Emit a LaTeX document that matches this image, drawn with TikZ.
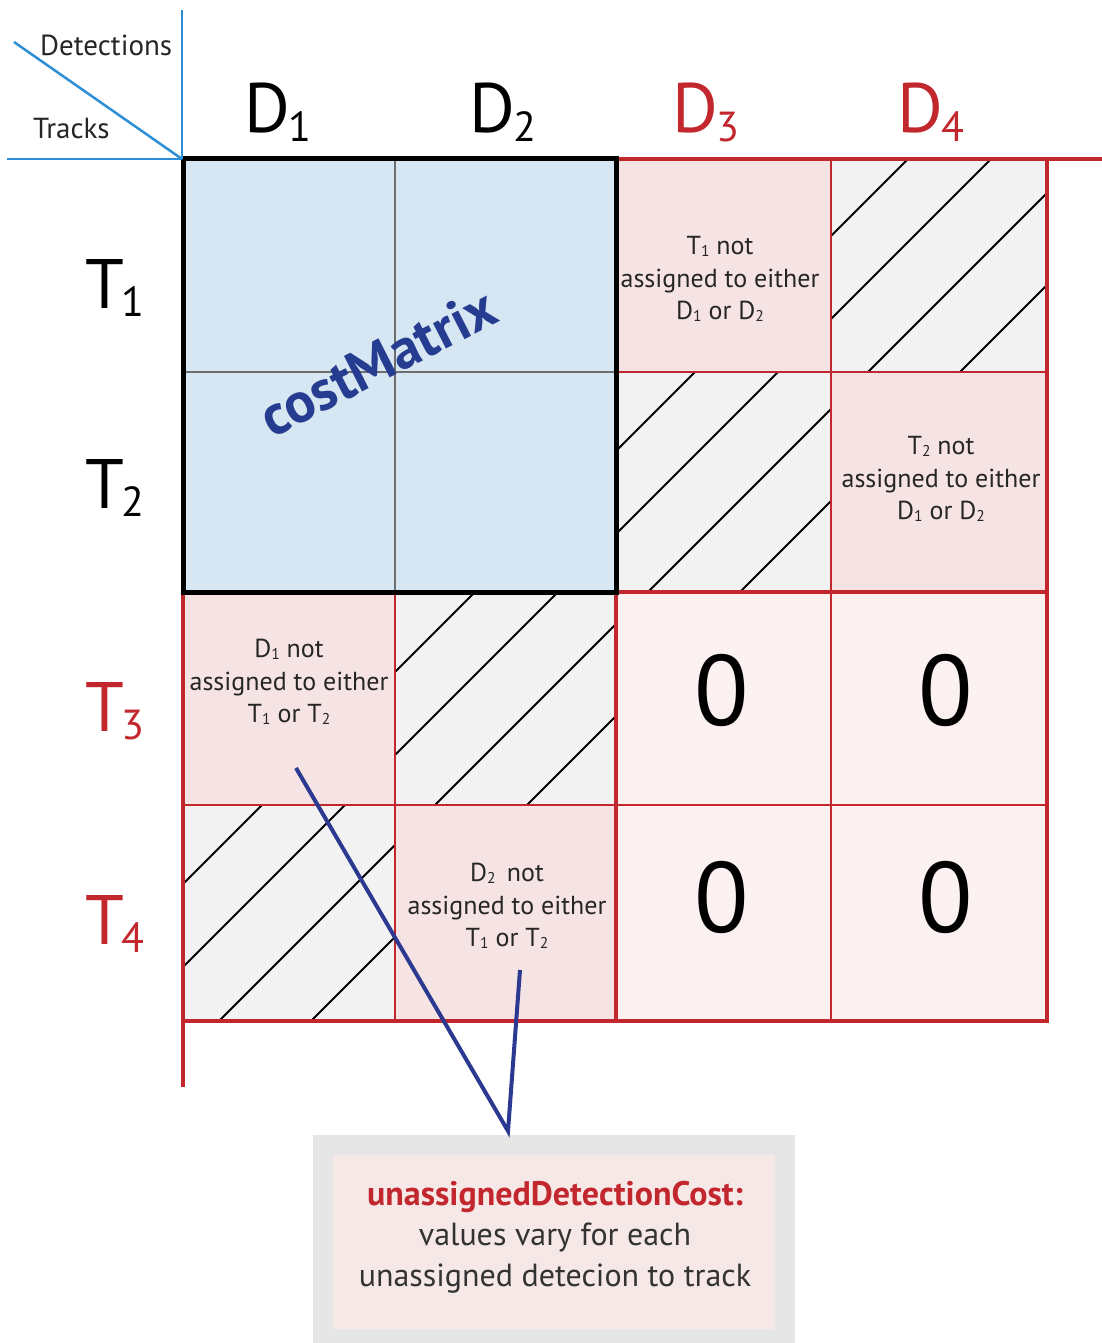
\documentclass[tikz,border=0pt]{standalone}
\usepackage{fontspec}
\setmainfont{PT Sans}
\usepackage{graphicx}
\definecolor{cmblue}{HTML}{D6E6F3}
\definecolor{cellpink}{HTML}{F6E3E3}
\definecolor{zeropink}{HTML}{FBF1F1}
\definecolor{hatchgray}{HTML}{F2F2F2}
\definecolor{redline}{HTML}{C1272D}
\definecolor{axisblue}{HTML}{2D8FD5}
\definecolor{connblue}{HTML}{2B3990}
\definecolor{cmtext}{HTML}{263C91}
\definecolor{notegray}{HTML}{E6E6E6}
\definecolor{notepink}{HTML}{F7E8E8}
\definecolor{textgray}{HTML}{333333}
\definecolor{gridgray}{HTML}{6E6E6E}
\newcommand\lowdig[1]{\raisebox{-0.06em}{\scalebox{0.6}{#1}}}
\newcommand\hdsub[1]{\kern-0.03em\raisebox{-0.12em}{\scalebox{0.6}{#1}}}
\tikzset{
  thinred/.style={draw=redline, line width=2pt},
  thickred/.style={draw=redline, line width=4.5pt},
  hatchline/.style={draw=black, line width=1.8pt},
  axisline/.style={draw=axisblue, line width=2.5pt},
  conn/.style={draw=connblue, line width=4pt, line join=miter},
  hdr/.style={font=\fontsize{70}{72}\selectfont, inner sep=0pt},
  celltext/.style={font=\fontsize{26}{32.5}\selectfont, align=center, inner sep=0pt, text=black!85},
  zero/.style={font=\fontsize{100}{100}\selectfont, inner sep=0pt},
  axislabel/.style={font=\fontsize{29}{30}\selectfont, inner sep=0pt, text=black!85}
}
\begin{document}
\begin{tikzpicture}[x=1pt,y=-1pt]
\useasboundingbox (0,0) rectangle (1102,1343);
\fill[white] (0,0) rectangle (1102,1343);
% fills
\fill[cmblue] (183,159) rectangle (616,592);
\fill[cellpink] (616,159) rectangle (831,372);
\fill[cellpink] (831,372) rectangle (1047,592);
\fill[cellpink] (183,592) rectangle (395,805);
\fill[cellpink] (395,805) rectangle (616,1021);
\fill[zeropink] (616,592) rectangle (1047,1021);
% hatched cells
\foreach \xa/\ya/\xb/\yb in {831/159/1047/372, 616/372/831/592, 395/592/616/805, 183/805/395/1021} {
  \begin{scope}
    \clip (\xa,\ya) rectangle (\xb,\yb);
    \fill[hatchgray] (\xa,\ya) rectangle (\xb,\yb);
    \foreach \c in {1067,1150,1240,1332} {
      \draw[hatchline] (0,\c) -- (\c,0);
    }
  \end{scope}
}
% cost matrix inner grid
\draw[draw=gridgray, line width=2pt] (395,159) -- (395,592);
\draw[draw=gridgray, line width=2pt] (183,372) -- (616,372);
% thin red lines
\draw[thinred] (831,159) -- (831,1021);
\draw[thinred] (616,372) -- (1047,372);
\draw[thinred] (395,592) -- (395,1021);
\draw[thinred] (183,805) -- (1047,805);
% thick red lines
\draw[thickred] (616,159) -- (1102,159);
\draw[thickred] (1047,159) -- (1047,1021);
\draw[thickred] (181,1021) -- (1049,1021);
\draw[thickred] (183,592) -- (183,1087);
\draw[thickred] (183,592) -- (1047,592);
\draw[thickred] (616,592) -- (616,1021);
% black border
\draw[line width=5pt, line join=miter] (183,159) rectangle (616,592);
% axes
\draw[axisline] (182,10) -- (182,159);
\draw[axisline] (7,159) -- (182,159);
\draw[axisline] (14,42) -- (182,159);
\node[axislabel, anchor=base west] (det) at (40,56) {Detections};
\node[axislabel, anchor=base west] (trk) at (33,139) {Tracks};
% headers
\node[hdr, anchor=base] (D1) at (278,133) {D\hdsub{1}};
\node[hdr, anchor=base] (D2) at (503,133) {D\hdsub{2}};
\node[hdr, anchor=base, text=redline] (D3) at (706,133) {D\hdsub{3}};
\node[hdr, anchor=base, text=redline] (D4) at (931,133) {D\hdsub{4}};
\node[hdr, anchor=base] (T1) at (115,308) {T\hdsub{1}};
\node[hdr, anchor=base] (T2) at (115,508) {T\hdsub{2}};
\node[hdr, anchor=base, text=redline] (T3) at (115,731) {T\hdsub{3}};
\node[hdr, anchor=base, text=redline] (T4) at (115,944) {T\hdsub{4}};
% cost matrix label
\node[font=\fontsize{57}{57}\selectfont\bfseries, text=cmtext, rotate=27, inner sep=0pt] (cm) at (378,362) {costMatrix};
% cell texts
\node[celltext] (t1na) at (720,279) {T\lowdig{1} not\\assigned to either\\D\lowdig{1} or D\lowdig{2}};
\node[celltext] (t2na) at (941,479) {T\lowdig{2} not\\assigned to either\\D\lowdig{1} or D\lowdig{2}};
\node[celltext] (d1na) at (289,682) {D\lowdig{1} not\\assigned to either\\T\lowdig{1} or T\lowdig{2}};
\node[celltext] (d2na) at (507,906) {D\lowdig{2}\, not\\assigned to either\\T\lowdig{1} or T\lowdig{2}};
% zeros
\node[zero] (z33) at (722,690) {0};
\node[zero] (z34) at (946,690) {0};
\node[zero] (z43) at (722,897) {0};
\node[zero] (z44) at (946,897) {0};
% note box
\node[fill=notegray, minimum width=482pt, minimum height=208pt, inner sep=0pt] (note) at (554,1239) {};
\node[fill=notepink, minimum width=442pt, minimum height=174pt, inner sep=0pt] (notein) at (554,1242) {};
\node[align=center, inner sep=0pt, font=\fontsize{32}{40.5}\selectfont, text=textgray] (notetext) at (555,1237)
  {{\fontsize{34}{40.5}\selectfont\bfseries\color{redline}unassignedDetectionCost:}\\values vary for each\\unassigned detecion to track};
% connectors
\coordinate (s1) at (296,768);
\coordinate (s2) at (520,970);
\coordinate (apex) at (508,1131);
\draw[conn] (s1) -- (apex) -- (s2);
\end{tikzpicture}
\end{document}
